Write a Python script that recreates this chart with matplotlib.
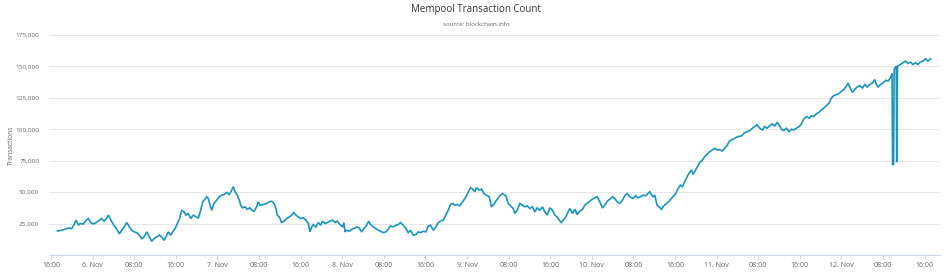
import matplotlib
matplotlib.use("Agg")
import matplotlib.pyplot as plt
from matplotlib.ticker import FixedLocator, FuncFormatter

# hours since 5 Nov 16:00
hours = [1.22, 2.05, 2.69, 3.33, 3.97, 4.42, 4.81, 5.25, 5.57, 6.22, 6.73, 7.18, 7.63, 8.14, 8.65,
         9.29, 9.74, 10.19, 10.70, 11.02, 11.34, 11.98, 12.62, 13.14, 13.58, 14.03, 14.55, 15.06,
         15.51, 15.96, 16.47, 16.98, 17.43, 17.88, 18.39, 18.90, 19.35, 19.80, 20.31, 20.83, 21.27,
         21.72, 22.24, 22.56, 23.00, 23.39, 23.84, 24.29, 24.67, 25.12, 25.57, 25.95, 26.40, 26.85,
         27.36, 27.87, 28.32, 28.77, 29.16, 29.60, 29.92, 30.24, 30.57, 30.89, 31.33, 31.85, 32.36,
         32.81, 33.26, 33.77, 34.28, 34.73, 35.05, 35.37, 35.82, 36.20, 36.46, 36.84, 37.29, 37.74,
         38.25, 38.57, 39.02, 39.54, 39.86, 40.18, 40.82, 41.46, 41.97, 42.42, 42.87, 43.25, 43.51,
         43.89, 44.34, 44.79, 45.30, 45.82, 46.26, 46.71, 47.10, 47.55, 47.99, 48.51, 49.02, 49.47,
         49.79, 50.11, 50.43, 50.94, 51.39, 51.84, 52.22, 52.67, 53.12, 53.63, 54.15, 54.59, 55.04,
         55.56, 56.07, 56.32, 56.52, 56.84, 57.35, 57.80, 58.25, 58.76, 59.27, 59.72, 60.17, 60.68,
         61.07, 61.45, 61.96, 62.48, 62.92, 63.37, 63.89, 64.40, 64.85, 65.30, 65.81, 66.32, 66.77,
         67.22, 67.73, 68.24, 68.69, 69.14, 69.65, 70.17, 70.61, 71.06, 71.58, 72.09, 72.54, 72.98,
         73.50, 74.01, 74.46, 74.91, 75.42, 75.93, 76.38, 76.83, 77.21, 77.66, 78.11, 78.62, 79.14,
         79.59, 80.03, 80.42, 80.67, 81.06, 81.51,
         81.83, 82.34, 82.79, 83.24, 83.75, 84.26, 84.71, 85.16, 85.67, 86.31, 86.83, 87.47, 87.92,
         88.36, 88.88, 89.20, 89.65, 90.16, 90.67, 91.12, 91.57, 92.08, 92.59, 93.04, 93.49, 94.00,
         94.51, 94.96, 95.41, 95.92, 96.44, 96.89, 97.33, 97.72, 98.10, 98.49, 99.00, 99.45, 99.77,
         100.28, 100.73, 101.18, 101.69, 102.21, 102.65, 103.10, 103.61, 104.13, 104.58, 105.03,
         105.54, 106.05, 106.50, 106.95, 107.46, 107.97, 108.42, 108.87, 109.38, 109.89, 110.34,
         110.79, 111.30, 111.94, 112.46, 112.91, 113.35, 113.87, 114.38, 114.83, 115.15, 115.47,
         115.79, 116.11, 116.56, 116.94, 117.39, 117.84, 118.35, 118.86, 119.31, 119.76, 120.14,
         120.59, 121.04, 121.43, 121.87, 122.19, 122.51, 122.83, 123.16, 123.48, 123.80, 124.12,
         124.44, 124.76, 125.27, 125.72, 126.17, 126.68, 127.19, 127.64, 128.09, 128.60, 129.11,
         129.56, 130.01, 130.40, 130.85, 131.49, 132.13, 132.77,
         133.41, 133.86, 134.37, 134.88, 135.33, 135.78, 136.30, 136.81, 137.26, 137.71, 138.22,
         138.73, 139.18, 139.63, 140.02, 140.47, 140.92, 141.43, 141.95, 142.39, 142.84, 143.36,
         143.87, 144.32, 144.77, 145.28, 145.79, 146.24, 146.69, 147.19, 147.71, 148.16, 148.61,
         149.12, 149.63, 150.08, 150.53, 151.04, 151.56, 152.01, 152.46, 152.97, 153.29, 153.61,
         154.12, 154.57, 155.02, 155.53, 156.05, 156.50, 156.94, 157.46, 157.97, 158.42, 158.74,
         159.06, 159.51, 160.02, 160.53, 160.98, 161.43, 161.62, 161.75, 161.85, 162.05, 162.15,
         162.30, 162.55, 162.65, 162.80, 163.33, 163.85, 164.36, 164.81, 165.26, 165.77, 166.28,
         166.73, 167.18, 167.69, 168.20, 168.65, 169.16]

counts = [19100, 19700, 20500, 21500, 21000, 24200, 27700, 23700, 25000, 24700, 27700, 29000, 25800,
          24700, 25800, 27700, 29000, 26900, 29500, 31700, 29000, 24200, 20500, 16800, 19700, 22300,
          25800, 22300, 19700, 18400, 17800, 15700, 13000, 14400, 18400, 14400, 10900, 13000, 14400,
          15700, 14400, 11700, 15700, 18400, 15700, 18400, 21000, 25000, 28500, 35600, 34300, 31700,
          33000, 29000, 31700, 30300, 29500, 35600, 42300, 44400, 46300, 45000, 39600, 35600, 41000,
          43600, 46300, 47600, 48100, 49700, 48100, 51600, 54300, 50300, 47600, 43600, 39600, 37500,
          38300, 36400, 37500, 35600, 34800, 38300, 42300, 39600, 40200, 41000, 42300, 42800, 41000,
          37000, 31700, 30300, 25800, 26900, 29000, 30300, 31700, 33800, 31700, 30300, 29000, 29500,
          27700, 25000, 18400, 22300, 24200, 22300, 25800, 23700, 26900, 25000, 25800, 26900, 27700,
          25800, 26900, 24200, 22300, 25800, 18400, 19700, 18900, 20500, 21000, 22300, 21500, 18400,
          21000, 23700, 26900, 24200, 22300, 21000, 19700, 18900, 17800, 18400, 20500, 23100, 22300,
          23700, 24200, 25800, 23700, 21000, 17800, 19700, 15700, 16200, 18400, 17800, 18900, 18400,
          23100, 23700, 19700, 22300, 25800, 26900, 27700, 31700, 35600, 40200, 41000, 39600, 40200,
          39100, 42300, 45000, 48100, 51600, 53500, 52400, 50300,
          53500, 51600, 52400, 48900, 47600, 46300, 38300, 40200, 43600, 47100, 48900, 47100, 41000,
          39100, 37000, 33000, 35600, 41000, 39600, 38300, 39100, 37000, 38300, 34300, 37500, 35600,
          38300, 34300, 31700, 37500, 35600, 31700, 30300, 27700, 25800, 27700, 30300, 34300, 37000,
          33000, 36400, 32200, 34800, 36400, 39600, 41000, 42800, 44400, 45500, 46300, 42300, 37500,
          39600, 42800, 44400, 46300, 45000, 42300, 41000, 43600, 47100, 48900, 46300, 45000, 47100,
          45500, 46300, 47600, 47100, 48900, 50300, 48100, 46300, 47600, 39600, 38300, 36400, 39100,
          41000, 42800, 45000, 47100, 48900, 52900, 55600, 54300, 58300, 60900, 63600, 65700, 67600,
          64100, 66200, 68900, 71000, 73700, 75500, 78200, 80100, 82200, 83500, 84900, 83500, 83800,
          82700, 84900, 87000, 90200, 91500, 92800, 94200, 94700,
          97300, 98100, 98900, 100800, 102100, 103500, 100800, 99500, 102100, 100800, 102700, 104300,
          102700, 105300, 103500, 100000, 98900, 100800, 98100, 100000, 99500, 100800, 102100, 104300,
          108000, 110100, 108800, 110700, 110100, 112300, 113400, 115500, 116800, 118700, 120800,
          124800, 126700, 127500, 128300, 130200, 131500, 134200, 136800, 133600, 129400, 131500,
          133600, 134700, 132800, 135500, 133600, 135500, 136800, 139500, 135500, 133600, 135500,
          136800, 139000, 138200, 140900, 142700, 144300, 71700, 72000, 147000, 148900, 150000,
          73800, 150200, 151500, 152900, 154200, 152300, 153400, 151500, 152900, 151500, 153400,
          154200, 156100, 154200, 156100]

tick_hours = [0, 8, 16, 24, 32, 40, 48, 56, 64, 72, 80, 88, 96, 104, 112, 120, 128, 136, 144, 152, 160, 168]
tick_labels = ["16:00", "6. Nov", "08:00", "16:00", "7. Nov", "08:00", "16:00", "8. Nov", "08:00",
               "16:00", "9. Nov", "08:00", "16:00", "10. Nov", "08:00", "16:00", "11. Nov", "08:00",
               "16:00", "12. Nov", "08:00", "16:00"]
y_ticks = [25000, 50000, 75000, 100000, 125000, 150000, 175000]

plt.rcParams['font.family'] = ['Open Sans', 'DejaVu Sans']

fig = plt.figure(figsize=(9.52, 2.75), dpi=100)
ax = fig.add_axes([0.0515, 0.0727, 0.9355, 0.8003])

ax.plot(hours, counts, color='#1a95c0', lw=1.2, solid_joinstyle='miter')

ax.set_xlim(-0.4, 170.9)
ax.set_ylim(0, 175000)

ax.yaxis.set_major_locator(FixedLocator(y_ticks))
ax.yaxis.set_major_formatter(FuncFormatter(lambda v, p: f"{int(v):,}"))
ax.tick_params(axis='y', length=0, pad=7, labelsize=4.6, labelcolor='#666666')
ax.grid(axis='y', color='#e6e6e6', lw=0.8)
ax.set_axisbelow(True)

ax.xaxis.set_major_locator(FixedLocator(tick_hours))
ax.set_xticklabels(tick_labels)
ax.tick_params(axis='x', length=3, width=0.8, color='#ccd6eb', pad=2, labelsize=5, labelcolor='#666666')

for s in ['top', 'right', 'left']:
    ax.spines[s].set_visible(False)
ax.spines['bottom'].set_color('#ccd6eb')
ax.spines['bottom'].set_linewidth(0.8)

fig.text(0.012, 0.473, 'Transactions', rotation=90, ha='center', va='center',
         fontsize=4.8, color='#666666')

fig.text(0.5, 0.965, 'Mempool Transaction Count', ha='center', va='center', fontsize=7, color='#333333')
fig.text(0.5, 0.91, 'source: blockchain.info', ha='center', va='center', fontsize=4.5, color='#666666')

fig.savefig('out.png', dpi=100)
